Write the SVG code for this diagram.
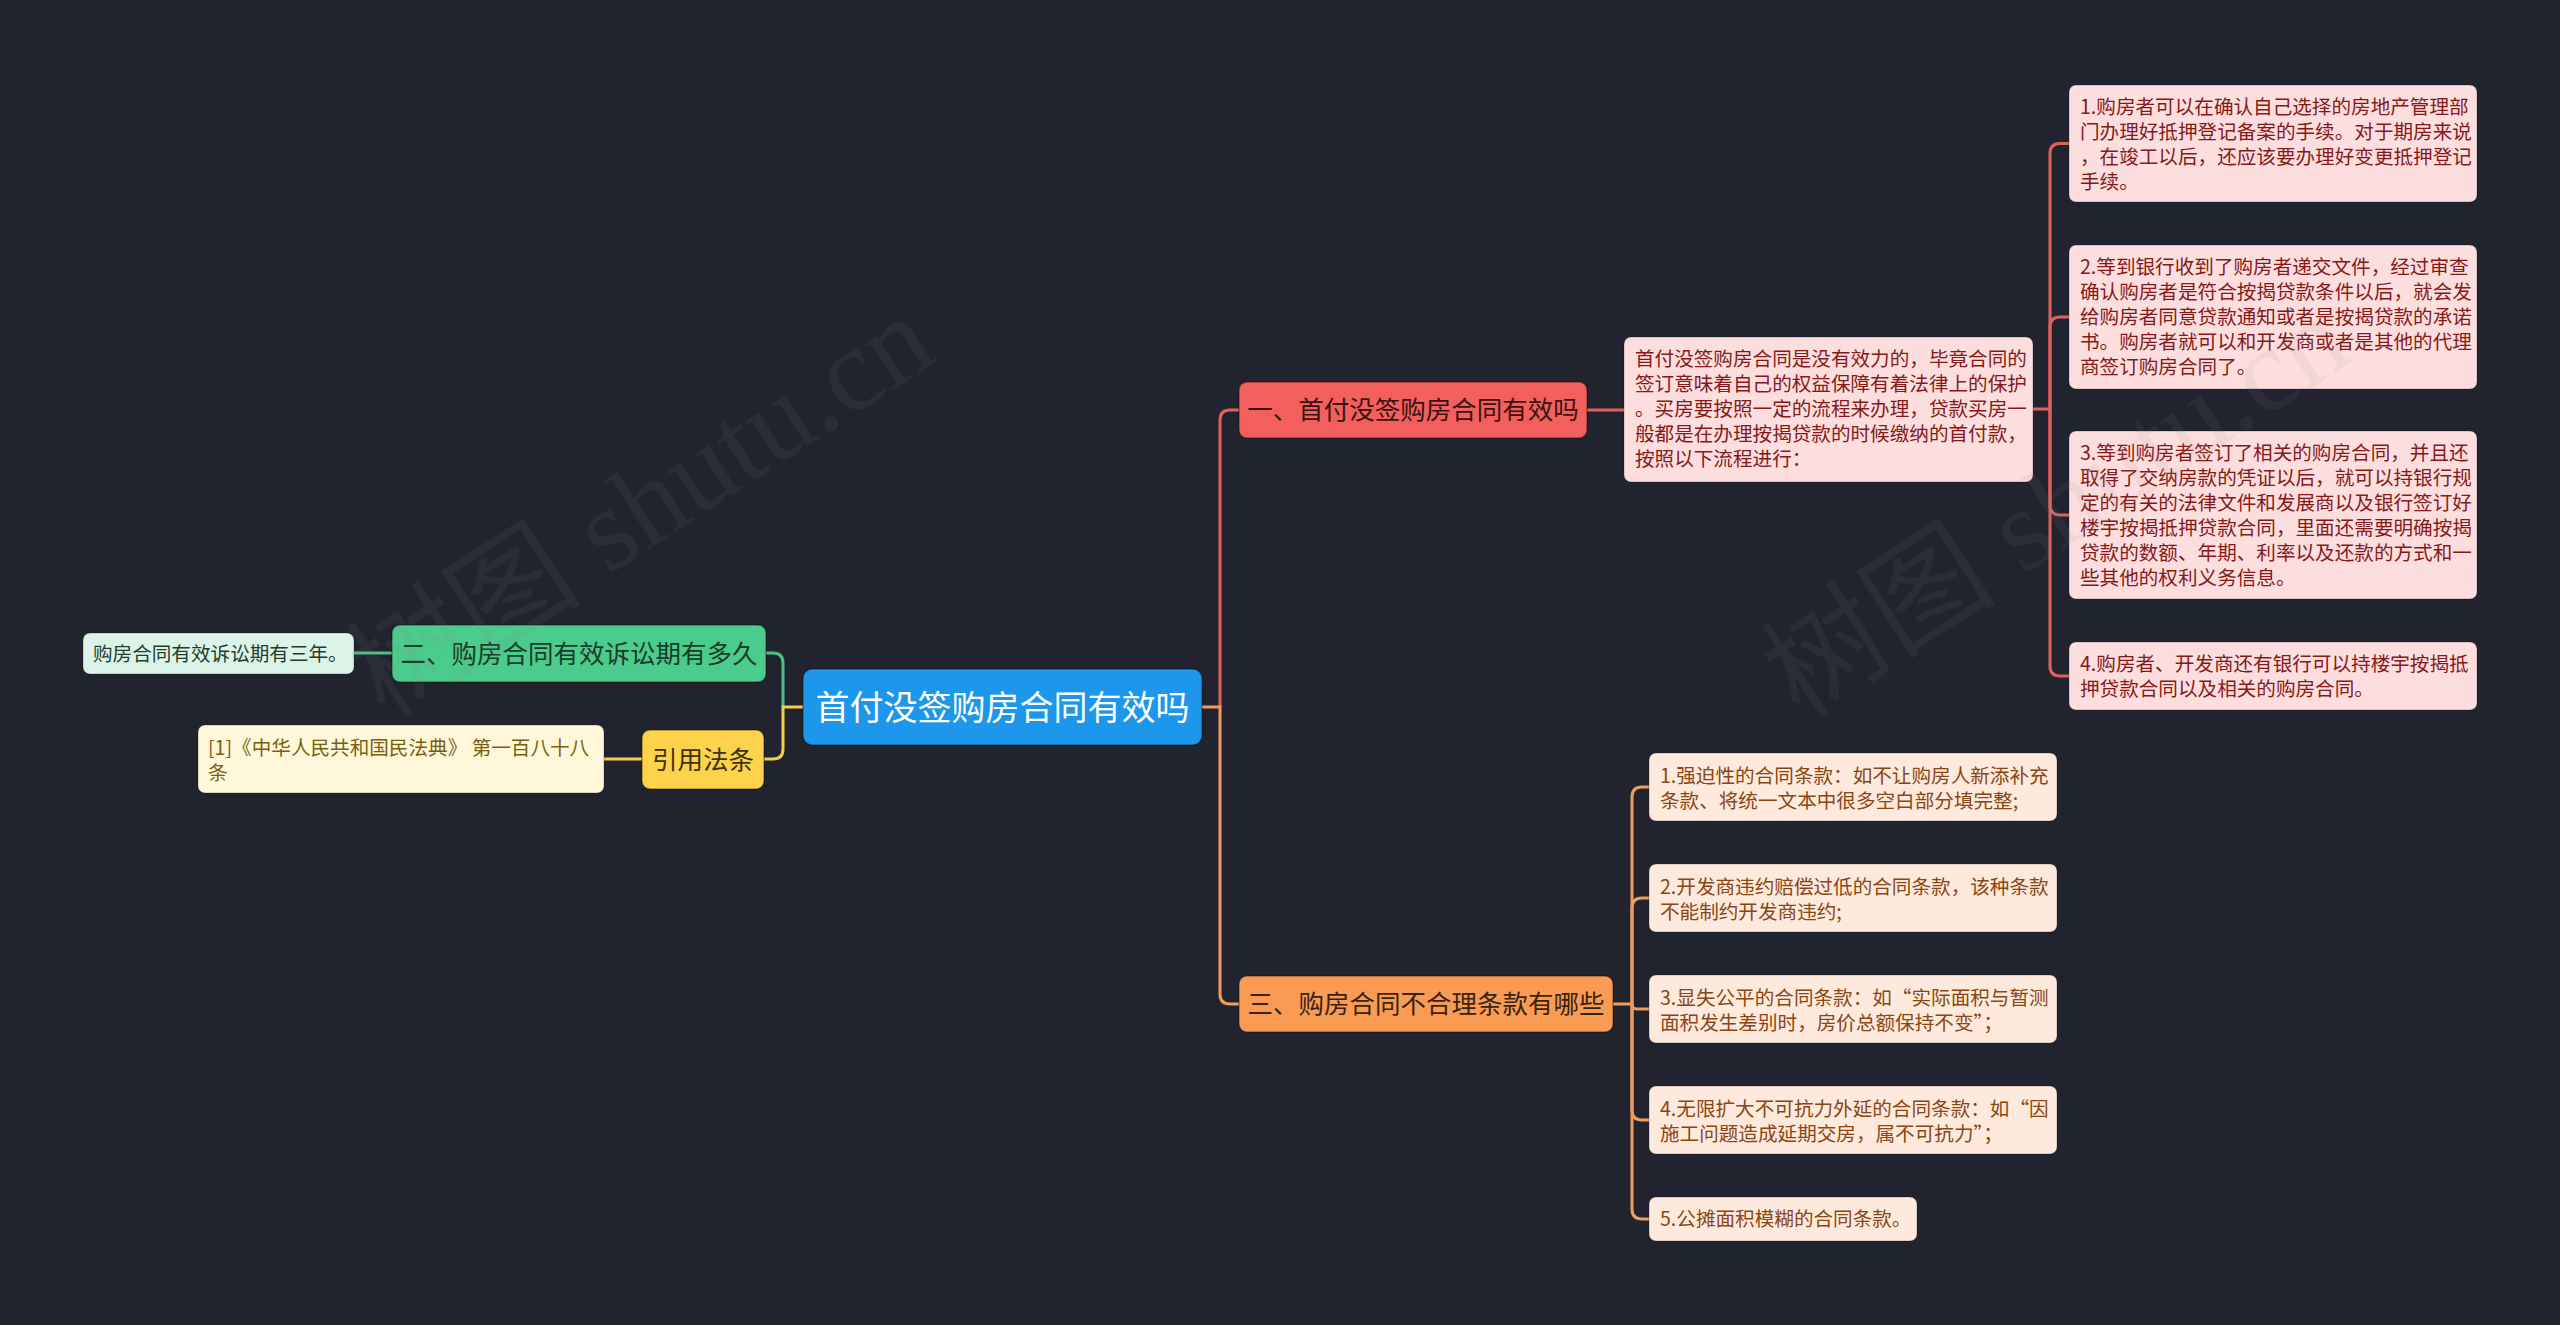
<svg xmlns="http://www.w3.org/2000/svg" width="2560" height="1325" viewBox="0 0 2560 1325">
<style>
text{font-family:"Noto Sans CJK SC","Noto Sans",sans-serif}
.c{stroke-width:3;fill:none}
.red{stroke:#E0625F}.org{stroke:#F09C5C}.grn{stroke:#4FBF8A}.yel{stroke:#F3CD48}
.nd{stroke:rgba(0,0,0,0.35);stroke-width:1.5}
.t19{font-size:19.6px}
.rt{fill:#861818}.ot{fill:#8A4512}
.rb{fill:#FDDEDE;stroke:rgba(0,0,0,0.25);stroke-width:1}
.ob{fill:#FEEADC;stroke:rgba(0,0,0,0.25);stroke-width:1}
.wm{font-family:"Liberation Serif","Noto Sans CJK SC",serif;font-size:118px;fill:#8a8a8a;opacity:0.09}
</style>
<rect width="2560" height="1325" fill="#21242F"/>
<g id="connectors">
<path class="c red" d="M1220,707 V420 Q1220,410 1230,410 H1239"/>
<path class="c org" d="M1202,707 H1220 V994 Q1220,1004 1230,1004 H1239"/>
<path class="c red" d="M1587,410 H1624"/>
<path class="c red" d="M2033,409 H2050"/>
<path class="c red" d="M2050,409 V153.5 Q2050,143.5 2060,143.5 H2069"/>
<path class="c red" d="M2050,409 V327 Q2050,317 2060,317 H2069"/>
<path class="c red" d="M2050,409 V505 Q2050,515 2060,515 H2069"/>
<path class="c red" d="M2050,409 V666 Q2050,676 2060,676 H2069"/>
<path class="c org" d="M1613,1004 H1632"/>
<path class="c org" d="M1632,1004 V797 Q1632,787 1642,787 H1649"/>
<path class="c org" d="M1632,1004 V908 Q1632,898 1642,898 H1649"/>
<path class="c org" d="M1632,1004 Q1632,1009 1637,1009 H1649"/>
<path class="c org" d="M1632,1004 V1110 Q1632,1120 1642,1120 H1649"/>
<path class="c org" d="M1632,1004 V1209 Q1632,1219 1642,1219 H1649"/>
<path class="c grn" d="M783,707 V663 Q783,653 773,653 H766"/>
<path class="c grn" d="M392,653 H354"/>
<path class="c yel" d="M803,707 H783 V749 Q783,759 773,759 H764"/>
<path class="c yel" d="M642,759 H604"/>
</g>
<g id="center">
<rect class="nd" x="803" y="669" width="399" height="76" rx="9" fill="#1D97EC"/>
<text x="1002.5" y="719.5" font-size="34" fill="#FFFFFF" text-anchor="middle">首付没签购房合同有效吗</text>
</g>
<g id="n1">
<rect class="nd" x="1239" y="382" width="348" height="56" rx="8" fill="#F25F5C"/>
<text x="1413" y="419" font-size="25.5" fill="#3A1212" text-anchor="middle">一、首付没签购房合同有效吗</text>
</g>
<g id="n3">
<rect class="nd" x="1239" y="976" width="374" height="56" rx="8" fill="#FA9B54"/>
<text x="1426" y="1013" font-size="25.5" fill="#3B2210" text-anchor="middle">三、购房合同不合理条款有哪些</text>
</g>
<g id="n2">
<rect class="nd" x="392" y="625" width="374" height="57" rx="8" fill="#4BCB8C"/>
<text x="579" y="663" font-size="25.5" fill="#173D28" text-anchor="middle">二、购房合同有效诉讼期有多久</text>
</g>
<g id="nref">
<rect class="nd" x="642" y="730" width="122" height="59" rx="8" fill="#FCD34A"/>
<text x="703" y="769" font-size="25.5" fill="#3D3108" text-anchor="middle">引用法条</text>
</g>
<g id="leaf-green">
<rect x="83" y="633" width="271" height="41" rx="7" fill="#DCF4E8" stroke="rgba(0,0,0,0.25)"/>
<text x="93" y="661" class="t19" fill="#1E3D2C">购房合同有效诉讼期有三年。</text>
</g>
<g id="leaf-yellow">
<rect x="198" y="725" width="406" height="68" rx="7" fill="#FEF7DA" stroke="rgba(0,0,0,0.25)"/>
<text class="t19" fill="#7A5E10"><tspan x="208" y="754.5">[1]《中华人民共和国民法典》 第一百八十八</tspan><tspan x="208" y="779.5">条</tspan></text>
</g>
<g id="desc">
<rect class="rb" x="1624" y="337" width="409" height="145" rx="7"/>
<text class="t19 rt"><tspan x="1635" y="366">首付没签购房合同是没有效力的，毕竟合同的</tspan><tspan x="1635" y="391">签订意味着自己的权益保障有着法律上的保护</tspan><tspan x="1635" y="416">。买房要按照一定的流程来办理，贷款买房一</tspan><tspan x="1635" y="441">般都是在办理按揭贷款的时候缴纳的首付款，</tspan><tspan x="1635" y="466">按照以下流程进行：</tspan></text>
</g>
<g id="r1">
<rect class="rb" x="2069" y="85" width="408" height="117" rx="7"/>
<text class="t19 rt"><tspan x="2080" y="114">1.购房者可以在确认自己选择的房地产管理部</tspan><tspan x="2080" y="139">门办理好抵押登记备案的手续。对于期房来说</tspan><tspan x="2080" y="164">，在竣工以后，还应该要办理好变更抵押登记</tspan><tspan x="2080" y="189">手续。</tspan></text>
</g>
<g id="r2">
<rect class="rb" x="2069" y="245" width="408" height="144" rx="7"/>
<text class="t19 rt"><tspan x="2080" y="274">2.等到银行收到了购房者递交文件，经过审查</tspan><tspan x="2080" y="299">确认购房者是符合按揭贷款条件以后，就会发</tspan><tspan x="2080" y="324">给购房者同意贷款通知或者是按揭贷款的承诺</tspan><tspan x="2080" y="349">书。购房者就可以和开发商或者是其他的代理</tspan><tspan x="2080" y="374">商签订购房合同了。</tspan></text>
</g>
<g id="r3">
<rect class="rb" x="2069" y="431" width="408" height="168" rx="7"/>
<text class="t19 rt"><tspan x="2080" y="460">3.等到购房者签订了相关的购房合同，并且还</tspan><tspan x="2080" y="485">取得了交纳房款的凭证以后，就可以持银行规</tspan><tspan x="2080" y="510">定的有关的法律文件和发展商以及银行签订好</tspan><tspan x="2080" y="535">楼宇按揭抵押贷款合同，里面还需要明确按揭</tspan><tspan x="2080" y="560">贷款的数额、年期、利率以及还款的方式和一</tspan><tspan x="2080" y="585">些其他的权利义务信息。</tspan></text>
</g>
<g id="r4">
<rect class="rb" x="2069" y="642" width="408" height="68" rx="7"/>
<text class="t19 rt"><tspan x="2080" y="671">4.购房者、开发商还有银行可以持楼宇按揭抵</tspan><tspan x="2080" y="696">押贷款合同以及相关的购房合同。</tspan></text>
</g>
<g id="o1">
<rect class="ob" x="1649" y="753" width="408" height="68" rx="7"/>
<text class="t19 ot"><tspan x="1660" y="782.5">1.强迫性的合同条款：如不让购房人新添补充</tspan><tspan x="1660" y="807.5">条款、将统一文本中很多空白部分填完整;</tspan></text>
</g>
<g id="o2">
<rect class="ob" x="1649" y="864" width="408" height="68" rx="7"/>
<text class="t19 ot"><tspan x="1660" y="893.5">2.开发商违约赔偿过低的合同条款，该种条款</tspan><tspan x="1660" y="918.5">不能制约开发商违约;</tspan></text>
</g>
<g id="o3">
<rect class="ob" x="1649" y="975" width="408" height="68" rx="7"/>
<text class="t19 ot"><tspan x="1660" y="1004.5">3.显失公平的合同条款：如“实际面积与暂测</tspan><tspan x="1660" y="1029.5">面积发生差别时，房价总额保持不变”；</tspan></text>
</g>
<g id="o4">
<rect class="ob" x="1649" y="1086" width="408" height="68" rx="7"/>
<text class="t19 ot"><tspan x="1660" y="1115.5">4.无限扩大不可抗力外延的合同条款：如“因</tspan><tspan x="1660" y="1140.5">施工问题造成延期交房，属不可抗力”；</tspan></text>
</g>
<g id="o5">
<rect class="ob" x="1649" y="1197" width="268" height="44" rx="7"/>
<text class="t19 ot" x="1660" y="1226">5.公摊面积模糊的合同条款。</text>
</g>
<g id="watermarks">
<text class="wm" transform="translate(385,720) rotate(-33)">树图 shutu.cn</text>
<text class="wm" transform="translate(1800,720) rotate(-33)">树图 shutu.cn</text>
</g>
</svg>
